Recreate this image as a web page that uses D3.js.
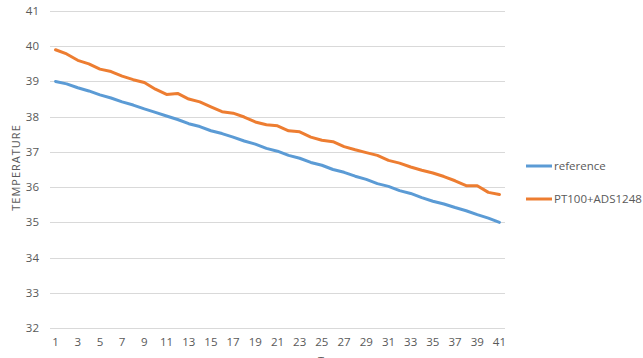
<!DOCTYPE html>
<html>
<head>
<meta charset="utf-8">
<script src="https://cdn.jsdelivr.net/npm/d3@7"></script>
<style>
  body { margin: 0; background: #fff; }
  text { font-family: "Open Sans", "Liberation Sans", sans-serif; fill: #595959; }
</style>
</head>
<body>
<div id="chart"></div>
<script>
// samples 1..41
const samples = d3.range(1, 42);

const reference = [39.0, 38.93, 38.82, 38.73, 38.62, 38.53, 38.42, 38.33, 38.22, 38.12,
  38.02, 37.92, 37.8, 37.72, 37.6, 37.52, 37.42, 37.31, 37.22, 37.1,
  37.02, 36.9, 36.82, 36.7, 36.62, 36.5, 36.42, 36.31, 36.22, 36.1,
  36.02, 35.9, 35.82, 35.7, 35.6, 35.52, 35.42, 35.33, 35.22, 35.12, 35.0];

const pt100 = [39.9, 39.78, 39.6, 39.5, 39.35, 39.28, 39.15, 39.05, 38.97, 38.78,
  38.63, 38.66, 38.5, 38.42, 38.28, 38.14, 38.1, 37.99, 37.85, 37.77,
  37.74, 37.6, 37.57, 37.42, 37.33, 37.29, 37.15, 37.06, 36.98, 36.9,
  36.76, 36.68, 36.57, 36.48, 36.4, 36.3, 36.18, 36.04, 36.04, 35.85, 35.79];

const yTicks = [32, 33, 34, 35, 36, 37, 38, 39, 40, 41];
const seriesNames = ["reference", "PT100+ADS1248"];
const colors = ["#5B9BD5", "#ED7D31"];

const width = 643;
const height = 358;
const plot = {left: 50, right: 505, top: 11, bottom: 328};

const svg = d3.select("#chart")
  .append("svg")
  .attr("width", width)
  .attr("height", height);

const x = d3.scalePoint()
  .domain(samples)
  .range([plot.left, plot.right])
  .padding(0.5);

const y = d3.scaleLinear()
  .domain([32, 41])
  .range([plot.bottom, plot.top]);

// gridlines
svg.append("g")
  .selectAll("line")
  .data(yTicks)
  .enter().append("line")
  .attr("x1", plot.left)
  .attr("x2", plot.right)
  .attr("y1", d => Math.round(y(d)) + 0.5)
  .attr("y2", d => Math.round(y(d)) + 0.5)
  .attr("stroke", "#D9D9D9")
  .attr("stroke-width", 1);

// y labels
svg.append("g")
  .selectAll("text")
  .data(yTicks)
  .enter().append("text")
  .attr("x", 39)
  .attr("y", d => y(d))
  .attr("dy", "0.35em")
  .attr("text-anchor", "end")
  .style("font-size", "11.5px")
  .text(d => d);

// x labels (odd only)
svg.append("g")
  .selectAll("text")
  .data(samples.filter(d => d % 2 === 1))
  .enter().append("text")
  .attr("x", d => x(d))
  .attr("y", 346)
  .attr("text-anchor", "middle")
  .style("font-size", "11.5px")
  .text(d => d);

// axis titles
svg.append("text")
  .attr("transform", "translate(20," + ((plot.top + plot.bottom) / 2 - 2) + ") rotate(-90)")
  .attr("text-anchor", "middle")
  .style("font-size", "11px")
  .style("letter-spacing", "1px")
  .text("TEMPERATURE");

// x title is cut off by the bottom edge in the original, only its top shows
svg.append("text")
  .attr("x", 321)
  .attr("y", 365)
  .attr("text-anchor", "middle")
  .style("font-size", "11px")
  .text("T");

// lines
const line = d3.line()
  .x((d, i) => x(samples[i]))
  .y(d => y(d));

[reference, pt100].forEach((values, i) => {
  svg.append("path")
    .datum(values)
    .attr("d", line)
    .attr("fill", "none")
    .attr("stroke", colors[i])
    .attr("stroke-width", 3)
    .attr("stroke-linejoin", "round")
    .attr("stroke-linecap", "round");
});

// legend
const legend = svg.append("g");
seriesNames.forEach((name, i) => {
  const ly = 166 + i * 33;
  legend.append("line")
    .attr("x1", 526)
    .attr("x2", 552)
    .attr("y1", ly)
    .attr("y2", ly)
    .attr("stroke", colors[i])
    .attr("stroke-width", 3);
  legend.append("text")
    .attr("x", 554)
    .attr("y", ly)
    .attr("dy", "0.35em")
    .style("font-size", "11.5px")
    .text(name);
});
</script>
</body>
</html>
